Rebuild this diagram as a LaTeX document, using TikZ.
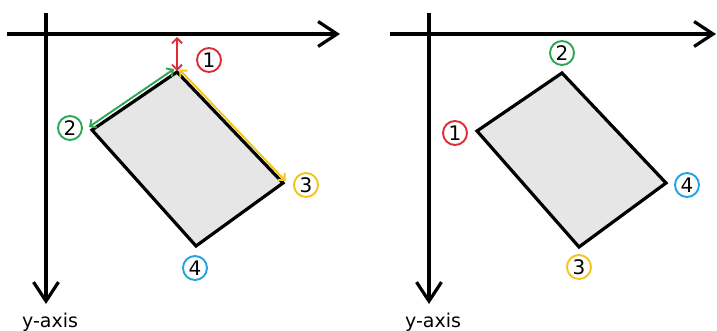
\documentclass[tikz,border=0pt]{standalone}
\usepackage{fontspec}
\setmainfont{DejaVu Sans}
\usetikzlibrary{arrows.meta}
\definecolor{cred}{HTML}{E02A35}
\definecolor{cgreen}{HTML}{2EA552}
\definecolor{cyellow}{HTML}{F2C418}
\definecolor{cblue}{HTML}{1FA3E2}
\definecolor{cfill}{HTML}{E6E6E6}
\begin{document}
\begin{tikzpicture}[x=1pt,y=-1pt,
  axis/.style={line width=3.2pt, -{Straight Barb[length=19pt,width=25pt]}},
  quad/.style={draw=black, line width=3.2pt, fill=cfill, line join=miter},
  lbl/.style={circle, draw=#1, line width=1.9pt, minimum size=24pt, inner sep=0pt, font=\fontsize{20}{20}\selectfont},
  meas/.style={draw=#1, line width=1.9pt, {Straight Barb[length=5pt,width=10pt]}-{Straight Barb[length=5pt,width=10pt]}},
  axlabel/.style={font=\fontsize{19}{19}\selectfont, inner sep=0pt}
]
\useasboundingbox (0,0) rectangle (717,331);

% ---------- left panel ----------
\coordinate (Lx0) at (7,34);
\coordinate (Lx1) at (340,34);
\coordinate (Ly0) at (46,13);
\coordinate (Ly1) at (46,304);
\draw[axis] (Lx0) -- (Lx1);
\draw[axis] (Ly0) -- (Ly1);
\node[axlabel, anchor=base] (Lyl) at (50,327) {y-axis};

\coordinate (L1) at (177,72);
\coordinate (L2) at (92,130);
\coordinate (L4) at (196,246);
\coordinate (L3) at (283,183);
\draw[quad] (L1) -- (L2) -- (L4) -- (L3) -- cycle;

\coordinate (r0) at (177,37);
\coordinate (r1) at (177,71);
\coordinate (g0) at (89,127);
\coordinate (g1) at (174,69);
\coordinate (y0) at (179.5,69.5);
\coordinate (y1) at (285.5,181);
\draw[meas=cred] (r0) -- (r1);
\draw[meas=cgreen] (g0) -- (g1);
\draw[meas=cyellow] (y0) -- (y1);

\node[lbl=cred] (La) at (209,60) {1};
\node[lbl=cgreen] (Lb) at (70,128) {2};
\node[lbl=cyellow] (Lc) at (306,185) {3};
\node[lbl=cblue] (Ld) at (195,268) {4};

% ---------- right panel ----------
\coordinate (Rx0) at (390,34);
\coordinate (Rx1) at (716,34);
\coordinate (Ry0) at (429,13);
\coordinate (Ry1) at (429,304);
\draw[axis] (Rx0) -- (Rx1);
\draw[axis] (Ry0) -- (Ry1);
\node[axlabel, anchor=base] (Ryl) at (433,327) {y-axis};

\coordinate (R1) at (477,131);
\coordinate (R2) at (562,73);
\coordinate (R4) at (666,183);
\coordinate (R3) at (579,247);
\draw[quad] (R1) -- (R2) -- (R4) -- (R3) -- cycle;

\node[lbl=cred] (Ra) at (455,133) {1};
\node[lbl=cgreen] (Rb) at (562,53) {2};
\node[lbl=cyellow] (Rc) at (579,267) {3};
\node[lbl=cblue] (Rd) at (687,185) {4};
\end{tikzpicture}
\end{document}
